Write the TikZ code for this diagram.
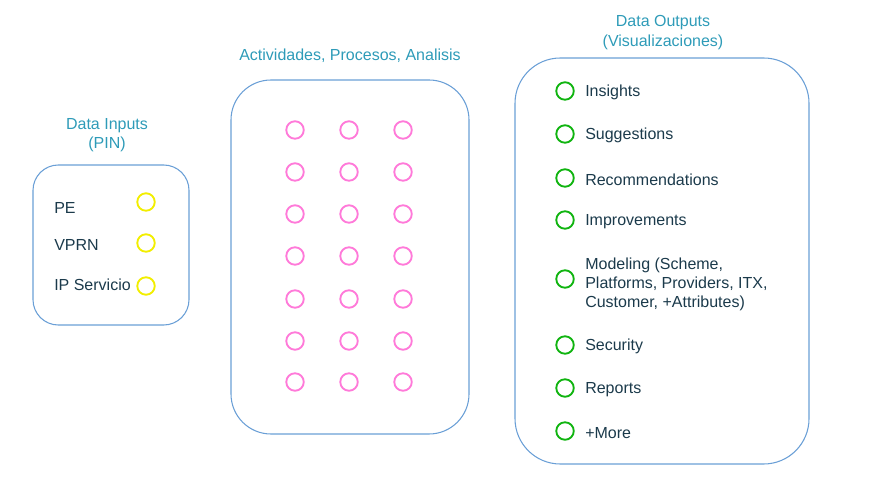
\documentclass[tikz,border=0pt]{standalone}
\usepackage{fontspec}
\setmainfont{Liberation Sans}
\begin{document}
\definecolor{titleblue}{HTML}{2E9BB8}
\definecolor{inktext}{HTML}{1B3A4B}
\definecolor{frame}{HTML}{6A9FD6}
\definecolor{pinyellow}{HTML}{F2EE00}
\definecolor{procpink}{HTML}{FF7AD9}
\definecolor{outgreen}{HTML}{10B410}
\begin{tikzpicture}[x=0.75pt,y=-0.75pt,
  every node/.style={font=\fontsize{12}{14.4}\selectfont},
  title/.style={text=titleblue,align=center,inner sep=0pt},
  label/.style={text=inktext,anchor=west,inner sep=0pt,align=left,yshift=-1.2pt},
  panel/.style={draw=frame,line width=0.8pt},
  dot/.style={circle,draw,line width=1.4pt,minimum size=17.5*0.75pt,inner sep=0pt},
  indot/.style={dot,draw=pinyellow},
  procdot/.style={dot,draw=procpink},
  outdot/.style={dot,draw=outgreen}]
\useasboundingbox (0,0) rectangle (887,484);

% panels
\draw[panel,rounded corners=19pt] (33,165) rectangle (189,325);
\draw[panel,rounded corners=30pt] (231,80) rectangle (469,434);
\draw[panel,rounded corners=34pt] (515,58) rectangle (809,464);

% titles
\node[title] (tin) at (107,135) {Data Inputs\\(PIN)};
\node[title] (tproc) at (350,55.5) {Actividades, Procesos, Analisis};
\node[title] (tout) at (663,32.5) {Data Outputs\\(Visualizaciones)};

% inputs
\node[label] (pe) at (54,206) {PE};
\node[label] (vprn) at (54,243) {VPRN};
\node[label] (ips) at (54,283) {IP Servicio};
\node[indot] (i1) at (146,202) {};
\node[indot] (i2) at (146,243) {};
\node[indot] (i3) at (146,286) {};

% processing grid
\foreach \r/\y in {1/130,2/172,3/214,4/256,5/299,6/341,7/382}{
  \foreach \c/\x in {1/295,2/349,3/403}{
    \node[procdot] (p\r\c) at (\x,\y) {};
  }
}

% outputs
\foreach \n/\y/\t in {1/91/Insights,2/134/Suggestions,3/178/Recommendations,
  4/220/Improvements,6/345/Security,7/388/Reports,8/431/+More}{
  \node[outdot] (o\n) at (565,\y) {};
  \node[label] (ol\n) at (585,\y) {\t};
}
\node[outdot] (o5) at (565,279) {};
\node[label] (ol5) at (585,283) {Modeling (Scheme,\\Platforms, Providers, ITX,\\Customer, +Attributes)};
\end{tikzpicture}
\end{document}
